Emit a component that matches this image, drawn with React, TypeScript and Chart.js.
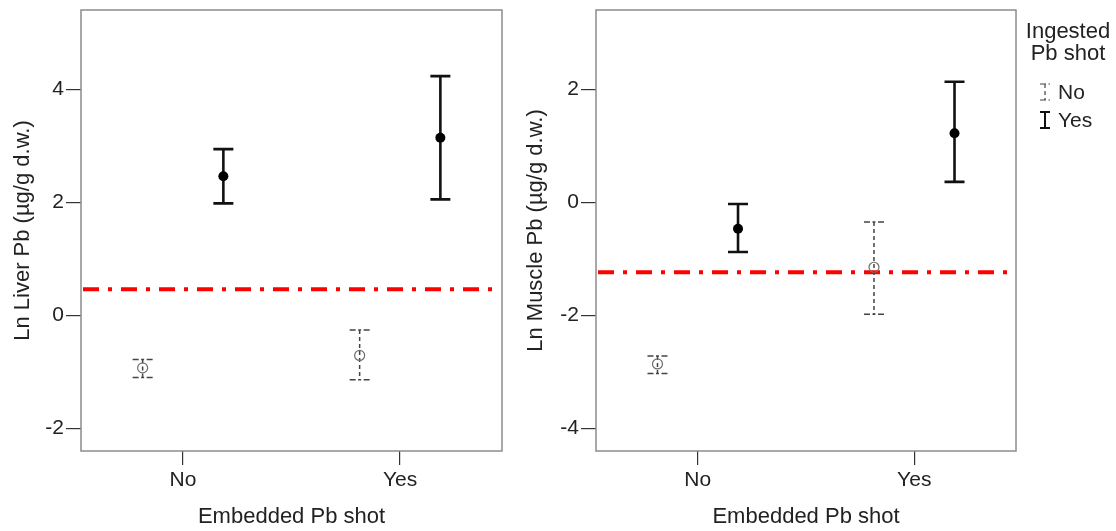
import React, { useEffect, useRef } from "react";
import { Chart, registerables } from "chart.js";

Chart.register(...registerables);

// ---------- data ----------
const embeddedCategories = ["No", "Yes"];
const ingestedGroups = ["No", "Yes"];

// Liver (Ln µg/g d.w.), per embedded category [No, Yes]
const liverMeanIngNo = [-0.93, -0.71];
const liverLowIngNo = [-1.1, -1.14];
const liverHighIngNo = [-0.78, -0.26];
const liverMeanIngYes = [2.46, 3.14];
const liverLowIngYes = [1.98, 2.05];
const liverHighIngYes = [2.94, 4.23];
const liverThreshold = 0.46;
const liverTicks = [-2, 0, 2, 4];
const liverRange = [-2.4, 5.4];

// Muscle (Ln µg/g d.w.)
const muscleMeanIngNo = [-2.86, -1.15];
const muscleLowIngNo = [-3.03, -1.98];
const muscleHighIngNo = [-2.72, -0.35];
const muscleMeanIngYes = [-0.47, 1.22];
const muscleLowIngYes = [-0.88, 0.36];
const muscleHighIngYes = [-0.03, 2.13];
const muscleThreshold = -1.24;
const muscleTicks = [-4, -2, 0, 2];
const muscleRange = [-4.4, 3.4];

// ---------- styling ----------
const FONT = "'Liberation Sans', Arial, sans-serif";
const TEXT = "#222";
const DODGE = 0.186;
const X_RANGE = [0.53, 2.47];
const W = 1116;
const H = 531;
const SPLIT = 515;

type Panel = {
  yTitle: string;
  mean: number[][];
  low: number[][];
  high: number[][];
  threshold: number;
  ticks: number[];
  range: number[];
  titlePad: number;
  withLegend: boolean;
  width: number;
  rightPad: number;
};

function buildPoints(p: Panel, g: number) {
  return embeddedCategories.map((_, i) => ({
    x: i + 1 + (g === 0 ? -DODGE : DODGE),
    y: p.mean[g][i],
    low: p.low[g][i],
    high: p.high[g][i],
  }));
}

function drawErrorBar(
  ctx: CanvasRenderingContext2D,
  x: number,
  y1: number,
  y2: number,
  half: number,
  dashed: boolean,
  lw: number
) {
  ctx.save();
  ctx.strokeStyle = dashed ? "#444" : "#111";
  ctx.lineWidth = lw;
  ctx.setLineDash(dashed ? [4, 3] : []);
  ctx.beginPath();
  ctx.moveTo(x, y1);
  ctx.lineTo(x, y2);
  ctx.stroke();
  ctx.setLineDash(dashed ? [6, 2.5, 3, 2.5] : []);
  ctx.beginPath();
  ctx.moveTo(x - half, y1);
  ctx.lineTo(x + half, y1);
  ctx.moveTo(x - half, y2);
  ctx.lineTo(x + half, y2);
  ctx.stroke();
  ctx.restore();
}

const panelPlugin = {
  id: "panelDecor",
  beforeDatasetsDraw(chart: any) {
    const { ctx, chartArea, scales } = chart;
    const opts = chart.options.plugins.panelDecor;
    // frame
    ctx.save();
    ctx.strokeStyle = "#8c8c8c";
    ctx.lineWidth = 1.5;
    ctx.strokeRect(chartArea.left, chartArea.top, chartArea.right - chartArea.left, chartArea.bottom - chartArea.top);
    ctx.restore();
    // reference line
    const yv = scales.y.getPixelForValue(opts.threshold);
    ctx.save();
    ctx.strokeStyle = "#ff0000";
    ctx.lineWidth = 4;
    ctx.setLineDash([16, 9, 4, 9]);
    ctx.beginPath();
    ctx.moveTo(chartArea.left + 2, yv);
    ctx.lineTo(chartArea.right - 9, yv);
    ctx.stroke();
    ctx.restore();
    // error bars
    chart.data.datasets.forEach((ds: any, di: number) => {
      const meta = chart.getDatasetMeta(di);
      meta.data.forEach((el: any, i: number) => {
        const raw = ds.data[i];
        const y1 = scales.y.getPixelForValue(raw.high);
        const y2 = scales.y.getPixelForValue(raw.low);
        drawErrorBar(ctx, el.x, y1, y2, 10, ds.dashedBar, ds.dashedBar ? 1.5 : 2.6);
      });
    });
  },
  afterDraw(chart: any) {
    const opts = chart.options.plugins.panelDecor;
    if (!opts.withLegend) return;
    const { ctx } = chart;
    const ox = -SPLIT;
    ctx.save();
    ctx.fillStyle = TEXT;
    ctx.textAlign = "center";
    ctx.textBaseline = "middle";
    ctx.font = `22px ${FONT}`;
    ctx.fillText("Ingested", 1068 + ox, 32);
    ctx.fillText("Pb shot", 1068 + ox, 54);
    ctx.font = `21px ${FONT}`;
    ctx.textAlign = "left";
    const rows = [92, 120];
    ingestedGroups.forEach((g, gi) => {
      const cy = rows[gi];
      const dashed = gi === 0;
      drawErrorBar(ctx, 1045 + ox, cy - 8, cy + 8, 5, dashed, dashed ? 1.2 : 2);
      ctx.fillStyle = TEXT;
      ctx.fillText(g, 1058 + ox, cy + 1);
    });
    ctx.restore();
  },
};

function makeConfig(p: Panel): any {
  return {
    type: "scatter",
    data: {
      datasets: [
        {
          label: ingestedGroups[0],
          data: buildPoints(p, 0),
          dashedBar: true,
          pointStyle: "circle",
          pointRadius: 5,
          pointBorderWidth: 1.2,
          pointBorderColor: "#6e6e6e",
          pointBackgroundColor: "rgba(0,0,0,0)",
        },
        {
          label: ingestedGroups[1],
          data: buildPoints(p, 1),
          dashedBar: false,
          pointStyle: "circle",
          pointRadius: 5,
          pointBorderWidth: 0,
          pointBackgroundColor: "#000",
          pointBorderColor: "#000",
        },
      ],
    },
    options: {
      animation: false,
      responsive: false,
      devicePixelRatio: 1,
      layout: { padding: { top: 10, left: 0, right: p.rightPad, bottom: 0 } },
      plugins: {
        legend: { display: false },
        tooltip: { enabled: false },
        panelDecor: { threshold: p.threshold, withLegend: p.withLegend },
      },
      scales: {
        x: {
          type: "linear",
          min: X_RANGE[0],
          max: X_RANGE[1],
          afterBuildTicks: (s: any) => {
            s.ticks = embeddedCategories.map((_, i) => ({ value: i + 1 }));
          },
          afterFit: (s: any) => {
            s.height = 80;
            s.paddingLeft = 0;
            s.paddingRight = 0;
          },
          grid: { drawOnChartArea: false, drawTicks: true, tickLength: 14, color: "#333", lineWidth: 1.2 },
          border: { display: false },
          ticks: {
            padding: 3,
            color: TEXT,
            font: { family: FONT, size: 21 },
            maxRotation: 0,
            autoSkip: false,
            callback: (v: number) => embeddedCategories[Math.round(v) - 1] ?? "",
          },
          title: {
            display: true,
            text: "Embedded Pb shot",
            color: TEXT,
            font: { family: FONT, size: 22 },
            padding: { top: 0, bottom: 1 },
          },
        },
        y: {
          type: "linear",
          min: p.range[0],
          max: p.range[1],
          afterBuildTicks: (s: any) => {
            s.ticks = p.ticks.map((v) => ({ value: v }));
          },
          afterFit: (s: any) => {
            s.width = 81;
            s.paddingTop = 0;
            s.paddingBottom = 0;
          },
          grid: { drawOnChartArea: false, drawTicks: true, tickLength: 15, color: "#333", lineWidth: 1.2 },
          border: { display: false },
          ticks: {
            padding: 2,
            color: TEXT,
            font: { family: FONT, size: 21 },
            autoSkip: false,
            callback: (v: number) => String(v),
          },
          title: {
            display: true,
            text: p.yTitle,
            color: TEXT,
            font: { family: FONT, size: 22 },
            padding: { top: p.titlePad, bottom: 0 },
          },
        },
      },
    },
    plugins: [panelPlugin],
  };
}

const liverPanel: Panel = {
  yTitle: "Ln Liver Pb (µg/g d.w.)",
  mean: [liverMeanIngNo, liverMeanIngYes],
  low: [liverLowIngNo, liverLowIngYes],
  high: [liverHighIngNo, liverHighIngYes],
  threshold: liverThreshold,
  ticks: liverTicks,
  range: liverRange,
  titlePad: 10,
  withLegend: false,
  width: SPLIT,
  rightPad: 13,
};

const musclePanel: Panel = {
  yTitle: "Ln Muscle Pb (µg/g d.w.)",
  mean: [muscleMeanIngNo, muscleMeanIngYes],
  low: [muscleLowIngNo, muscleLowIngYes],
  high: [muscleHighIngNo, muscleHighIngYes],
  threshold: muscleThreshold,
  ticks: muscleTicks,
  range: muscleRange,
  titlePad: 8,
  withLegend: true,
  width: W - SPLIT,
  rightPad: 100,
};

function PanelCanvas({ panel, left }: { panel: Panel; left: number }) {
  const ref = useRef<HTMLCanvasElement | null>(null);
  useEffect(() => {
    if (!ref.current) return;
    const chart = new Chart(ref.current, makeConfig(panel));
    return () => chart.destroy();
  }, [panel]);
  return (
    <canvas
      ref={ref}
      width={panel.width}
      height={H}
      style={{ position: "absolute", left, top: 0, width: panel.width, height: H }}
    />
  );
}

export default function App() {
  return (
    <div style={{ position: "fixed", left: 0, top: 0, width: W, height: H, background: "#fff" }}>
      <PanelCanvas panel={liverPanel} left={0} />
      <PanelCanvas panel={musclePanel} left={SPLIT} />
    </div>
  );
}
